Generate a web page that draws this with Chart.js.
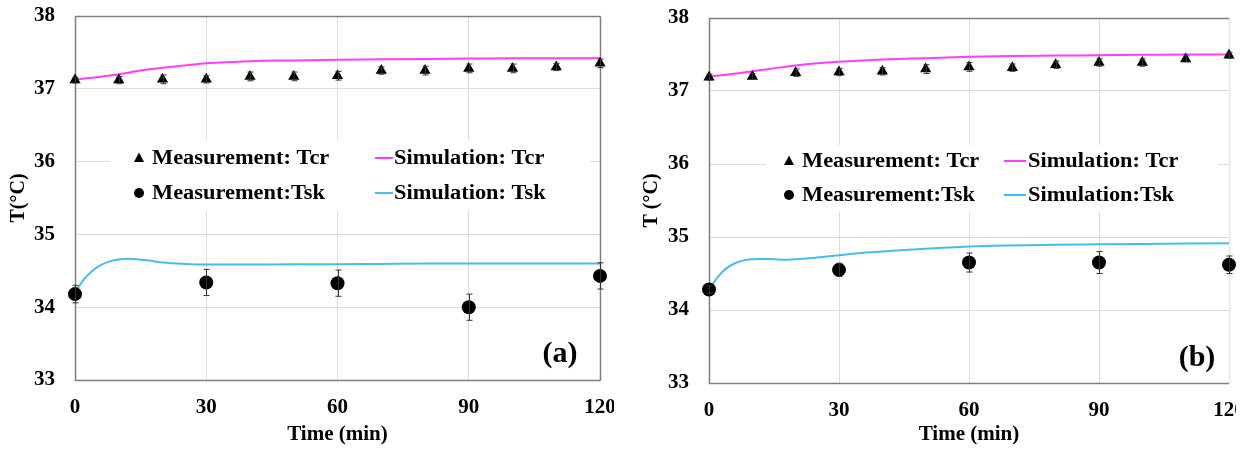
<!DOCTYPE html>
<html>
<head>
<meta charset="utf-8">
<script src="https://cdn.jsdelivr.net/npm/chart.js@4.4.1/dist/chart.umd.min.js"></script>
<style>
  html, body { margin:0; padding:0; background:#fff; width:1246px; height:450px; overflow:hidden; }
  #wrap { position:relative; width:1246px; height:450px; overflow:hidden; }
  canvas { position:absolute; top:0; }
  #cA { left:0; }
  #cB { left:626px; }
</style>
</head>
<body>
<div id="wrap">
  <canvas id="cA" width="614" height="450"></canvas>
  <canvas id="cB" width="610" height="450"></canvas>
</div>
<script>
// ---------- data ----------
const tcrTime = [0,10,20,30,40,50,60,70,80,90,100,110,120];
const tskTime = [0,30,60,90,120];
const xTickStep = 30;
const yMin = 33, yMax = 38;

// panel (a)
const aTcrMeas = [37.12,37.12,37.13,37.13,37.17,37.17,37.18,37.25,37.25,37.28,37.28,37.30,37.35];
const aTcrErr  = [0.04,0.05,0.06,0.05,0.06,0.06,0.06,0.05,0.06,0.06,0.06,0.05,0.06];
const aTskMeas = [34.18,34.34,34.33,34.00,34.43];
const aTskErr  = [0.12,0.18,0.18,0.18,0.18];
const aSimTcrTime = [0,5,10,15,20,25,30,40,50,60,70,80,90,100,110,120];
const aSimTcr     = [37.13,37.16,37.20,37.25,37.29,37.32,37.35,37.38,37.39,37.40,37.405,37.41,37.415,37.42,37.42,37.42];
const aSimTskTime = [0,2,4,6,8,10,12,14,17,20,25,30,40,50,60,70,80,90,100,110,120];
const aSimTsk     = [34.20,34.38,34.50,34.58,34.63,34.655,34.665,34.66,34.64,34.615,34.595,34.585,34.585,34.59,34.59,34.595,34.60,34.60,34.60,34.60,34.60];

// panel (b)
const bTcrMeas = [37.19,37.20,37.25,37.26,37.27,37.30,37.33,37.32,37.36,37.39,37.39,37.44,37.49];
const bTcrErr  = [0.04,0.04,0.05,0.05,0.05,0.06,0.06,0.05,0.05,0.05,0.05,0.04,0.04];
const bTskMeas = [34.28,34.55,34.65,34.65,34.62];
const bTskErr  = [0.05,0.09,0.13,0.15,0.12];
const bSimTcrTime = [0,5,10,15,20,25,30,40,50,60,70,80,90,100,110,120];
const bSimTcr     = [37.20,37.23,37.27,37.31,37.35,37.38,37.40,37.43,37.45,37.47,37.48,37.485,37.49,37.495,37.50,37.50];
const bSimTskTime = [0,2,4,6,8,10,12,15,18,20,25,30,35,40,50,60,70,80,90,100,110,120];
const bSimTsk     = [34.28,34.45,34.57,34.64,34.68,34.695,34.70,34.695,34.69,34.695,34.72,34.75,34.78,34.80,34.84,34.87,34.885,34.895,34.90,34.905,34.91,34.915];

const labelsA = ['Measurement: Tcr','Measurement:Tsk','Simulation: Tcr','Simulation: Tsk'];
const labelsB = ['Measurement: Tcr','Measurement:Tsk','Simulation: Tcr','Simulation:Tsk'];

// ---------- styling ----------
const FONT = "'Liberation Serif','Times New Roman',serif";
const PINK = '#FF3DFF';
const CYAN = '#45BCF0';
Chart.defaults.font.family = FONT;
Chart.defaults.font.weight = 'bold';
Chart.defaults.color = '#000';

const pts = (xs, ys) => xs.map((x,i)=>({x:x, y:ys[i]}));

// error bars
const errorBars = {
  id:'errorBars',
  afterDatasetsDraw(chart){
    const {ctx, scales:{x,y}} = chart;
    ctx.save();
    ctx.strokeStyle = '#333';
    ctx.lineWidth = 1;
    chart.data.datasets.forEach(ds=>{
      if(!ds.errors) return;
      ds.data.forEach((p,i)=>{
        const e = ds.errors[i];
        const px = Math.round(x.getPixelForValue(p.x))+0.5;
        const y1 = y.getPixelForValue(p.y+e), y2 = y.getPixelForValue(p.y-e);
        ctx.beginPath();
        ctx.moveTo(px,y1); ctx.lineTo(px,y2);
        ctx.moveTo(px-3,y1); ctx.lineTo(px+3,y1);
        ctx.moveTo(px-3,y2); ctx.lineTo(px+3,y2);
        ctx.stroke();
      });
    });
    ctx.restore();
  }
};

// frame around plot area (drawn over grid, under data)
const frame = {
  id:'frame',
  beforeDatasetsDraw(chart, args, o){
    const {ctx, chartArea:a} = chart;
    const L = Math.round(a.left)+0.5, R = Math.round(a.right)+0.5, T = Math.round(a.top)+0.5, B = Math.round(a.bottom)+0.5;
    ctx.save();
    ctx.lineWidth = 1.5;
    ctx.strokeStyle = '#7f7f7f';
    ctx.beginPath();
    ctx.moveTo(R,T); ctx.lineTo(L,T); ctx.lineTo(L,B); ctx.lineTo(R,B);
    ctx.stroke();
    ctx.strokeStyle = o.rightColor || '#7f7f7f';
    ctx.beginPath(); ctx.moveTo(R,T); ctx.lineTo(R,B); ctx.stroke();
    ctx.restore();
  }
};

// legend inside plot + panel tag
const innerLegend = {
  id:'innerLegend',
  afterDatasetsDraw(chart, args, o){
    const {ctx} = chart;
    const ds = chart.data.datasets;
    ctx.save();
    ctx.fillStyle = '#fff';
    ctx.fillRect(o.box[0], o.box[1], o.box[2]-o.box[0], o.box[3]-o.box[1]);
    ctx.font = 'bold ' + o.size + 'px ' + FONT;
    ctx.textBaseline = 'middle';
    ctx.fillStyle = '#000';
    const rows = o.rows;
    [0,1].forEach(r=>{
      const d = ds[r], cy = rows[r], cx = o.markerX;
      ctx.fillStyle = '#000';
      ctx.beginPath();
      if (d.pointStyle === 'triangle') {
        ctx.moveTo(cx, cy-5.5); ctx.lineTo(cx+5, cy+4); ctx.lineTo(cx-5, cy+4); ctx.closePath();
      } else {
        ctx.arc(cx, cy, 5, 0, Math.PI*2);
      }
      ctx.fill();
      ctx.save(); ctx.translate(o.text1X, cy); ctx.scale(o.stretch,1);
      ctx.fillText(d.label, 0, 1); ctx.restore();
    });
    [2,3].forEach((k,r)=>{
      const d = ds[k], cy = rows[r];
      ctx.strokeStyle = d.borderColor; ctx.lineWidth = 2;
      ctx.beginPath(); ctx.moveTo(o.line[0], cy); ctx.lineTo(o.line[1], cy); ctx.stroke();
      ctx.fillStyle = '#000';
      ctx.save(); ctx.translate(o.text2X, cy); ctx.scale(o.stretch,1);
      ctx.fillText(d.label, 0, 1); ctx.restore();
    });
    ctx.font = 'bold 30px ' + FONT;
    ctx.textAlign = 'center';
    ctx.fillText(o.tag, o.tagXY[0], o.tagXY[1]);
    ctx.restore();
  }
};

function makeChart(id, p){
  const datasets = [
    { label:p.labels[0], data:pts(tcrTime,p.tcr), errors:p.tcrErr, pointStyle:'triangle', pointRadius:6.5,
      backgroundColor:'#000', borderColor:'#000', borderWidth:0, showLine:false, clip:false, order:1 },
    { label:p.labels[1], data:pts(tskTime,p.tsk), errors:p.tskErr, pointStyle:'circle', pointRadius:7,
      backgroundColor:'#000', borderColor:'#000', borderWidth:0, showLine:false, clip:false, order:1 },
    { label:p.labels[2], data:pts(p.simTcrT,p.simTcr), borderColor:PINK, backgroundColor:PINK, borderWidth:2,
      pointRadius:0, showLine:true, cubicInterpolationMode:'monotone', clip:false, order:2 },
    { label:p.labels[3], data:pts(p.simTskT,p.simTsk), borderColor:CYAN, backgroundColor:CYAN, borderWidth:2,
      pointRadius:0, showLine:true, cubicInterpolationMode:'monotone', clip:false, order:2 }
  ];
  return new Chart(document.getElementById(id), {
    type:'scatter',
    data:{ datasets },
    options:{
      responsive:false, animation:false, devicePixelRatio:1,
      layout:{ padding:{ top:p.top, right:p.right, left:0, bottom:0 } },
      plugins:{
        legend:{ display:false }, tooltip:{ enabled:false },
        innerLegend: p.legend,
        frame: { rightColor: p.frameRight }
      },
      scales:{
        x:{ type:'linear', min:0, max:120,
          ticks:{ stepSize:xTickStep, padding:15, font:{size:21, weight:'bold'}, color:'#000', maxRotation:0 },
          grid:{ color:'#dcdcdc', drawTicks:false, lineWidth:1 },
          border:{ display:false },
          title:{ display:true, text:'Time (min)', font:{size:21, weight:'bold'}, color:'#000', padding:{top:0,bottom:3} },
          afterFit(s){ s.height = p.xh; s.paddingLeft = 0; s.paddingRight = 0; }
        },
        y:{ type:'linear', min:yMin, max:yMax,
          ticks:{ stepSize:1, padding:20, font:{size:21, weight:'bold'}, color:'#000' },
          grid:{ color:'#dcdcdc', drawTicks:false, lineWidth:1 },
          border:{ display:false },
          title:{ display:true, text:p.ytitle, font:{size:20, weight:'bold'}, color:'#000', padding:{top:p.ytpad,bottom:0} },
          afterFit(s){ s.width = p.yw; s.paddingTop = 0; s.paddingBottom = 0; }
        }
      }
    },
    plugins:[frame, errorBars, innerLegend]
  });
}

makeChart('cA', {
  labels:labelsA, tcr:aTcrMeas, tcrErr:aTcrErr, tsk:aTskMeas, tskErr:aTskErr,
  simTcrT:aSimTcrTime, simTcr:aSimTcr, simTskT:aSimTskTime, simTsk:aSimTsk,
  top:16, right:14, yw:75, xh:70, ytitle:'T(°C)', ytpad:7, frameRight:'#7f7f7f',
  legend:{ box:[110,140,590,211], rows:[158,193], markerX:139, text1X:152, line:[375,393], text2X:394,
           size:20, stretch:1.12, tag:'(a)', tagXY:[560,354] }
});
makeChart('cB', {
  labels:labelsB, tcr:bTcrMeas, tcrErr:bTcrErr, tsk:bTskMeas, tskErr:bTskErr,
  simTcrT:bSimTcrTime, simTcr:bSimTcr, simTskT:bSimTskTime, simTsk:bSimTsk,
  top:18, right:3, yw:83, xh:67, ytitle:'T (°C)', ytpad:14, frameRight:'#e6e6e6',
  legend:{ box:[140,145,592,212], rows:[161,195], markerX:163, text1X:176, line:[378,400], text2X:402,
           size:20, stretch:1.12, tag:'(b)', tagXY:[571,358] }
});
</script>
</body>
</html>
